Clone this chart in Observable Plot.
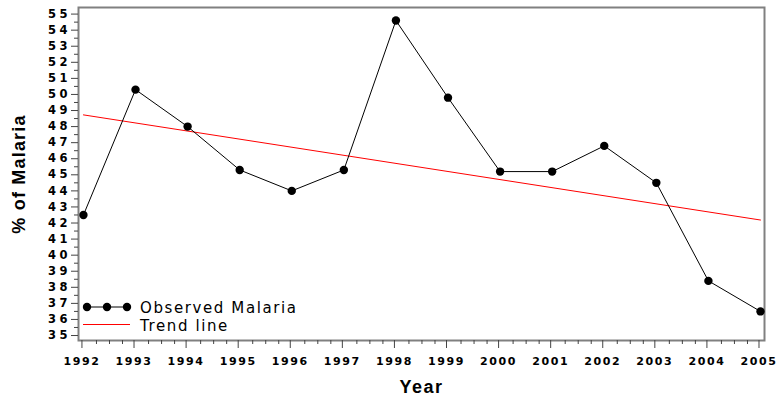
<!DOCTYPE html>
<html><head><meta charset="utf-8">
<script src="https://cdn.jsdelivr.net/npm/d3@7"></script>
<script src="https://cdn.jsdelivr.net/npm/@observablehq/plot@0.6"></script>
<style>
body{margin:0;background:#fff;}
#wrap{position:relative;width:777px;height:398px;overflow:hidden;}
#wrap svg text{font-family:"DejaVu Sans",sans-serif;}
g[aria-label="x-axis tick label"] text{letter-spacing:1.6px;font-size:11px;}
g[aria-label="y-axis tick label"] text{letter-spacing:3.5px;font-size:11.5px;}
g[aria-label="x-axis label"] text{font-family:"Liberation Sans",Arial,sans-serif !important;font-size:18px;letter-spacing:1.5px;}
g[aria-label="y-axis label"] text{font-family:"Liberation Sans",Arial,sans-serif !important;font-size:18px;letter-spacing:1.2px;}
#legend{position:absolute;left:0;top:0;}
</style></head><body><div id="wrap"></div>
<script>
const years = [1992,1993,1994,1995,1996,1997,1998,1999,2000,2001,2002,2003,2004,2005];
const malaria = [42.5,50.3,48.0,45.3,44.0,45.3,54.6,49.8,45.2,45.2,46.8,44.5,38.4,36.5];
const yTicks = [35,36,37,38,39,40,41,42,43,44,45,46,47,48,49,50,51,52,53,54,55];
const yMinor = yTicks.slice(0,-1).map(v => v + 0.5);
const xMinor = years.slice(0,-1).flatMap(y => [y + 0.25, y + 0.5, y + 0.75]);
const legendLabels = ["Observed Malaria", "Trend line"];
const axisTitles = {x: "Year", y: "% of Malaria"};

const data = years.map((year, i) => ({year, value: malaria[i]}));

const chart = Plot.plot({
  width: 777, height: 398,
  marginLeft: 78, marginRight: 13, marginTop: 7, marginBottom: 58,
  style: {fontFamily: "'DejaVu Sans', sans-serif", fontSize: "11px", fontWeight: "bold", color: "#000", background: "#fff", overflow: "visible"},
  x: {domain: [1991.905, 2005.077]},
  y: {domain: [34.69, 55.41]},
  marks: [
    Plot.frame({stroke: "#808080", strokeWidth: 2}),
    Plot.axisX({ticks: xMinor, tickSize: 4, tickFormat: () => "", label: null, stroke: "#444"}),
    Plot.axisX({ticks: years, tickSize: 8, tickPadding: 9, dx: -1.5, tickFormat: d => String(d), stroke: "#444",
      label: axisTitles.x, labelAnchor: "center", labelOffset: 52, labelArrow: "none"}),
    Plot.axisY({ticks: yMinor, tickSize: 4, tickFormat: () => "", label: null, stroke: "#444"}),
    Plot.axisY({ticks: yTicks, tickSize: 7, tickPadding: 0.5, tickFormat: d => String(d), stroke: "#444",
      label: axisTitles.y, labelAnchor: "center", labelOffset: 66, labelArrow: "none"}),
    Plot.linearRegressionY(data, {x: "year", y: "value", stroke: "#ff0000", strokeWidth: 1, ci: 0}),
    Plot.line(data, {x: "year", y: "value", stroke: "#000", strokeWidth: 1}),
    Plot.dot(data, {x: "year", y: "value", r: 4.2, fill: "#000", stroke: "none"})
  ]
});
const wrap = document.getElementById("wrap");
wrap.appendChild(chart);

// legend overlay
const lg = d3.select(wrap).append("svg").attr("id", "legend").attr("width", 777).attr("height", 398);
const g1 = lg.append("g");
g1.append("line").attr("x1", 83).attr("x2", 130).attr("y1", 307).attr("y2", 307).attr("stroke", "#000");
[87, 107, 127].forEach(cx => g1.append("circle").attr("cx", cx).attr("cy", 307).attr("r", 4.2).attr("fill", "#000"));
g1.append("text").attr("x", 140).attr("y", 312.5).text(legendLabels[0])
  .attr("font-family", "'DejaVu Sans', sans-serif").attr("font-size", 15).style("letter-spacing", "1.6px");
lg.append("line").attr("x1", 83).attr("x2", 130).attr("y1", 324.5).attr("y2", 324.5).attr("stroke", "#ff0000");
lg.append("text").attr("x", 140).attr("y", 331).text(legendLabels[1])
  .attr("font-family", "'DejaVu Sans', sans-serif").attr("font-size", 15).style("letter-spacing", "1.6px");
</script>
</body></html>
